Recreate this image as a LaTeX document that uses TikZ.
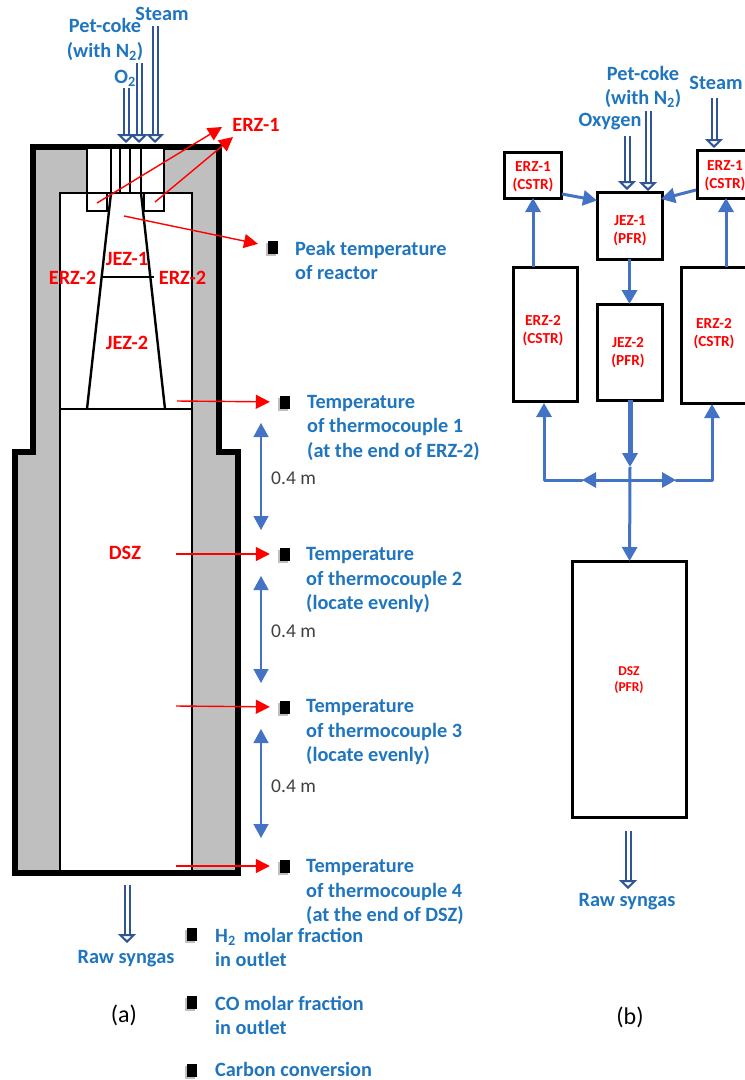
\documentclass[tikz,border=0pt]{standalone}
\usepackage{fontspec}
\setmainfont{Carlito}
\usetikzlibrary{arrows.meta,shadows}
\definecolor{labelblue}{HTML}{1F75BE}
\definecolor{flowblue}{HTML}{4472C4}
\definecolor{feedblue}{HTML}{2F5597}
\definecolor{wallgrey}{HTML}{BFBFBF}

\begin{document}
\begin{tikzpicture}[x=1pt,y=-1pt,
    txt/.style={font=\fontsize{20.3}{24.5}\selectfont\bfseries,text=labelblue,align=center,inner sep=0pt,yshift=-1.5pt},
    txtl/.style={txt,anchor=west,align=left},
    zone/.style={font=\fontsize{20.3}{24}\selectfont\bfseries,text=red,align=center,inner sep=0pt},
    zonesm/.style={font=\fontsize{15.3}{18}\selectfont\bfseries,text=red,align=center,inner sep=0pt,yshift=-1.5pt},
    gaptxt/.style={font=\fontsize{19.5}{22}\selectfont,text=black!75,inner sep=0pt,anchor=west},
    captxt/.style={font=\fontsize{24}{26}\selectfont,inner sep=0pt},
    box/.style={draw,line width=3pt,fill=white,inner sep=0pt,outer sep=0pt},
    sensor/.style={fill=black,inner sep=0pt,minimum width=10pt,minimum height=13pt,
      drop shadow={shadow xshift=-2pt,shadow yshift=-2pt,opacity=.25,fill=black}},
    probe/.style={red,line width=1.4pt,-{Triangle[length=14pt,width=14pt]}},
    feed/.style={double=white,draw=feedblue,line width=2pt,double distance=3pt,
      -{Triangle[open,length=9pt,width=18pt,line width=2pt,fill=white]}},
    flow/.style={flowblue,line width=3pt,-{Triangle[length=14pt,width=15pt]}},
    span/.style={flowblue,line width=1.4pt,{Triangle[length=14pt,width=15pt]}-{Triangle[length=14pt,width=15pt]}}]
  \useasboundingbox (0,0) rectangle (745,1080);
  \clip (0,0) rectangle (745,1080);

  % (a) reactor walls
  \draw[fill=wallgrey,line width=5.6pt,miter limit=4] (33,147) -- (219,147) -- (219,452) -- (238,452)
    -- (238,873) -- (15,873) -- (15,452) -- (33,452) -- cycle;
  \draw[fill=white,line width=2.4pt] (60,193) rectangle (192,871);
  \draw[fill=white,line width=2.4pt] (87,148) rectangle (164,193);
  \foreach \x in {111,120,130,141}{
    \draw[line width=2.2pt] (\x,148) -- (\x,193);
  }
  % burner tip and jet zones
  \draw[line width=2.4pt] (87,193) rectangle (107,211);
  \draw[line width=2.4pt] (144,193) rectangle (164,211);
  \draw[fill=white,draw=none] (111,194) -- (141,194) -- (165,408) -- (87,408) -- cycle;
  \draw[line width=2.4pt] (111,193) -- (87,409);
  \draw[line width=2.4pt] (141,193) -- (165,409);
  \draw[line width=2.2pt] (101,277) -- (154,277);
  \draw[line width=2.4pt] (60,409) -- (192,409);

  % (a) feeds
  \coordinate (steamtop) at (155,26);
  \coordinate (steamend) at (155,143);
  \coordinate (coketop) at (139,63);
  \coordinate (cokeend) at (139,143);
  \coordinate (oxtop) at (126,88);
  \coordinate (oxend) at (126,143);
  \coordinate (rawtop) at (127,885);
  \coordinate (rawend) at (127,943);
  \draw[feed] (oxtop) -- (oxend);
  \draw[feed] (steamtop) -- (steamend);
  \draw[feed] (coketop) -- (cokeend);
  \draw[feed] (rawtop) -- (rawend);
  \node[txt] (steama) at (162,12) {Steam};
  \node[txt] (cokea) at (105,38) {Pet-coke\\(with N\textsubscript{2})};
  \node[txt] (oxa) at (125,77) {O\textsubscript{2}};
  \node[txt] (rawa) at (126,957) {Raw syngas};

  % (a) zone names
  \node[zone] (erzone) at (256,125) {ERZ-1};
  \node[zone] (jezone) at (127,259) {JEZ-1};
  \node[zone] (erzl) at (72.5,278) {ERZ-2};
  \node[zone] (erzr) at (182.5,278) {ERZ-2};
  \node[zone] (jeztwo) at (127,343) {JEZ-2};
  \node[zone] (dsza) at (125,553) {DSZ};
  \coordinate (erzlin) at (97,203);
  \coordinate (erzlend) at (222,127);
  \coordinate (erzrin) at (155,202);
  \coordinate (erzrend) at (233,137);
  \draw[probe] (erzlin) -- (erzlend);
  \draw[probe] (erzrin) -- (erzrend);

  % sensors and what they read
  \foreach \n/\x/\y in {s0/273/247,s1/285/402,s2/285/554,s3/285/707,s4/285/866,s5/192/934,s6/192/1002,s7/192/1070}{
    \node[sensor] (\n) at (\x,\y) {};
  }
  \foreach \n/\x/\y in {s0/124/216,s1/177/401,s2/176/554,s3/176/706,s4/176/866}{
    \coordinate (\n in) at (\x,\y);
    \draw[probe,shorten >=10pt] (\n in) -- (\n);
  }
  \node[txtl] (peak) at (295,259) {Peak temperature\\of reactor};
  \node[txtl] (tca) at (307,426) {Temperature\\of thermocouple 1\\(at the end of ERZ-2)};
  \node[txtl] (tcb) at (306,579) {Temperature\\of thermocouple 2\\(locate evenly)};
  \node[txtl] (tcc) at (306,731) {Temperature\\of thermocouple 3\\(locate evenly)};
  \node[txtl] (tcd) at (306,890.5) {Temperature\\of thermocouple 4\\(at the end of DSZ)};
  \node[txtl] (hyd) at (215,946) {H\textsubscript{2}\, molar fraction\\in outlet};
  \node[txtl] (com) at (215,1014) {CO molar fraction\\in outlet};
  \node[txtl] (conv) at (215,1067.5) {Carbon conversion};

  % 0.4 m spacings
  \foreach \n/\a/\b in {ga/423/530,gb/576/683,gc/729/838}{
    \coordinate (\n top) at (261,\a);
    \coordinate (\n end) at (261,\b);
    \draw[span] (\n top) -- (\n end);
  }
  \foreach \n/\y in {ma/478,mb/631,mc/786}{
    \node[gaptxt] (\n) at (271,\y) {0.4 m};
  }
  \node[captxt] (capa) at (124,1015) {(a)};
  \node[captxt] (capb) at (630,1017) {(b)};

  % (b) reactor network
  \foreach \n/\x/\y/\w/\h in {erzol/533/175/57/46,erzor/726/174/57/48,jezo/629.5/225.5/65/67,
      jezt/629.5/352/65/96,erztl/545/334/64/134,erztr/714/335/66/136,dszb/629/689/114/256}{
    \node[box,minimum width=\w pt,minimum height=\h pt] (\n) at (\x,\y) {};
  }
  \node[zonesm] (erzoltxt) at (533,175) {ERZ-1\\(CSTR)};
  \node[zonesm] (erzortxt) at (725,174) {ERZ-1\\(CSTR)};
  \node[zonesm] (jezotxt) at (630,229.5) {JEZ-1\\(PFR)};
  \node[zonesm] (jezttxt) at (628,351) {JEZ-2\\(PFR)};
  \node[zonesm] (erztltxt) at (543,329) {ERZ-2\\(CSTR)};
  \node[zonesm] (erztrtxt) at (714,332) {ERZ-2\\(CSTR)};
  \node[font=\fontsize{13.5}{16}\selectfont\bfseries,text=red,align=center,inner sep=0pt] (dsztxt) at (629,680.5) {DSZ\\(PFR)};

  \coordinate (fork) at (629,480);
  \coordinate (stemend) at (630,467);
  \coordinate (leftmid) at (582,480);
  \coordinate (rightmid) at (676,480);
  \coordinate (dropin) at (562,194);
  \coordinate (dropout) at (597,200.5);
  \coordinate (sidein) at (696,190);
  \coordinate (sideout) at (661,199);
  \draw[flow] (dropin) -- (dropout);
  \draw[flow] (sidein) -- (sideout);
  \draw[flow] (erztl.north -| erzol.south) -- (erzol.south);
  \draw[flow] (erztr.north -| erzor.south) -- (erzor.south);
  \draw[flow,line width=3.6pt] (jezo) -- (jezt);
  \draw[flow] (stemend) -- (dszb);
  \draw[flow,line width=5pt] (jezt.south -| stemend) -- (stemend);
  \draw[flow] (fork) -- (leftmid);
  \draw[flow] (fork) -- (rightmid);
  \draw[flow,line cap=round,line join=round] (leftmid) -- (544,480) -- (544,403);
  \draw[flow,line cap=round,line join=round] (rightmid) -- (712,480) -- (712,404);

  \coordinate (oxbtop) at (627,136);
  \coordinate (oxbend) at (627,190);
  \coordinate (cokebtop) at (648,111);
  \coordinate (cokebend) at (648,191);
  \coordinate (steambtop) at (714,98);
  \coordinate (steambend) at (714,148);
  \coordinate (rawbtop) at (628,831);
  \coordinate (rawbend) at (628,889);
  \draw[feed] (oxbtop) -- (oxbend);
  \draw[feed] (cokebtop) -- (cokebend);
  \draw[feed] (steambtop) -- (steambend);
  \draw[feed] (rawbtop) -- (rawbend);
  \node[txt] (cokeb) at (643,85.5) {Pet-coke\\(with N\textsubscript{2})};
  \node[txt] (oxb) at (610,120) {Oxygen};
  \node[txt] (steamb) at (716,81) {Steam};
  \node[txt] (rawb) at (627,900) {Raw syngas};
\end{tikzpicture}
\end{document}
